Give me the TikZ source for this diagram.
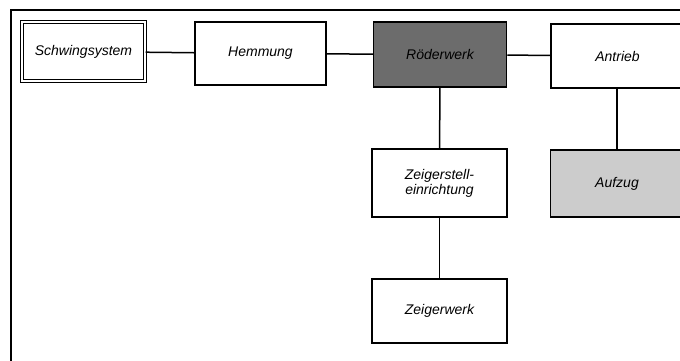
\documentclass[tikz,border=0pt]{standalone}
\usepackage{fontspec}
\setmainfont{Liberation Sans}
\definecolor{dunkelgrau}{RGB}{108,108,108}
\definecolor{hellgrau}{RGB}{204,204,204}
\begin{document}
\begin{tikzpicture}[x=1pt, y=-1pt,
    baustein/.style={draw, line width=1.5pt, minimum width=131pt, minimum height=63pt,
        inner sep=0pt, align=center, font=\fontsize{14}{15}\selectfont\itshape},
    verbindung/.style={line width=1.5pt}]
    % Rahmen und Ausschnitt
    \useasboundingbox (0,0) rectangle (680,360);
    \clip (0,0) rectangle (680,360);
    \fill[white] (0,0) rectangle (680,360);
    \draw[line width=2pt] (11,400) -- (11,10) -- (700,10);

    % Obere Reihe
    \node[baustein, double, double distance=2.4pt, line width=1.2pt,
        minimum width=123pt, minimum height=59pt] (schwing) at (83.5,51.5) {Schwingsystem};
    \node[baustein] (hemmung) at (260.5,53.5) {Hemmung};
    \node[baustein, fill=dunkelgrau, minimum width=133pt, minimum height=65pt] (raeder) at (440,54.5) {Röderwerk};
    \node[baustein, minimum width=133pt, minimum height=64pt] (antrieb) at (617.5,56) {Antrieb};

    % Untere Bausteine
    \node[baustein, minimum width=135pt, minimum height=68pt] (stell) at (439.5,183) {Zeigerstell-\\einrichtung};
    \node[baustein, fill=hellgrau, minimum width=133pt, minimum height=67pt] (aufzug) at (617,183.5) {Aufzug};
    \node[baustein, minimum width=135pt, minimum height=64pt] (zeiger) at (439.5,311) {Zeigerwerk};

    % Verbindungen
    \draw[verbindung] (schwing) -- (hemmung);
    \draw[verbindung] (hemmung) -- (raeder);
    \draw[verbindung] (raeder) -- (antrieb);
    \draw[verbindung] (raeder) -- (stell);
    \draw[verbindung] (stell) -- (zeiger);
    \draw[verbindung] (antrieb.south -| aufzug.north) -- (aufzug);
\end{tikzpicture}
\end{document}
